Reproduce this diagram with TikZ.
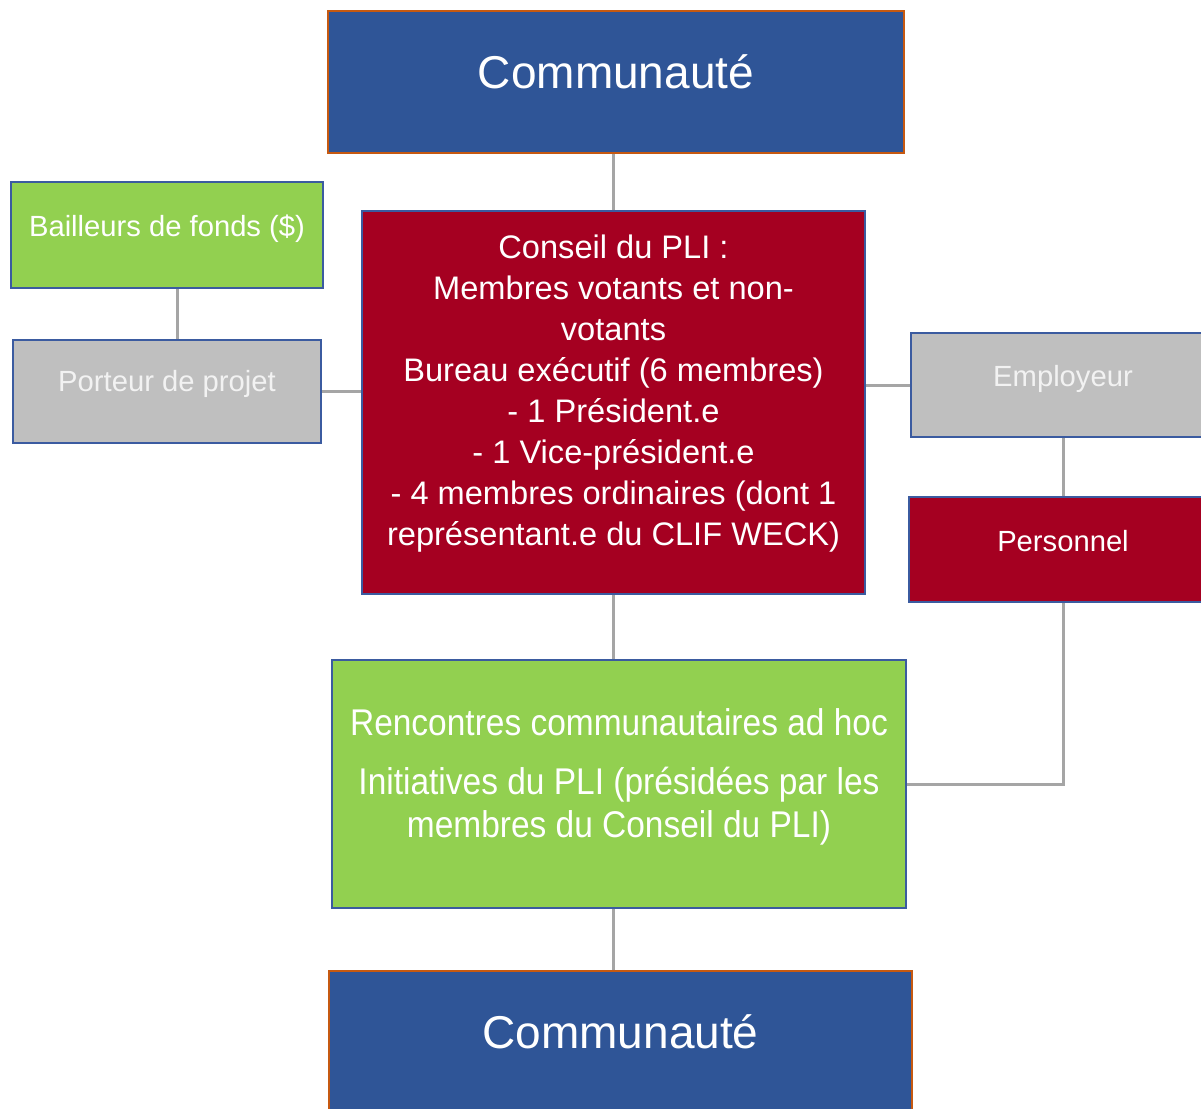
\documentclass[tikz,border=0pt]{standalone}
\usepackage{fontspec}
\setmainfont{Liberation Sans}
\newfontfamily\narrowsans[FakeStretch=0.9]{Liberation Sans}
\usepackage{xcolor}
\usepackage{tikz}
\usetikzlibrary{positioning}
\definecolor{commblue}{HTML}{2F5597}
\definecolor{commedge}{HTML}{C65911}
\definecolor{boxedge}{HTML}{3B5BA0}
\definecolor{pligreen}{HTML}{92D050}
\definecolor{plired}{HTML}{A50021}
\definecolor{pligray}{HTML}{BFBFBF}
\definecolor{paletext}{HTML}{F2F2F2}
\definecolor{linkgray}{HTML}{A5A5A5}
\tikzset{basic/.style={draw=boxedge,line width=1pt,inner sep=0pt,text=white,anchor=north west}}
\tikzset{community/.style={basic,draw=commedge,fill=commblue,font=\fontsize{23}{28}\selectfont,text height=38.5pt,text depth=32.5pt}}
\tikzset{small/.style={basic,font=\fontsize{14.6}{18}\selectfont}}
\tikzset{council/.style={basic,fill=plired,text width=251.5pt,align=flush center,font=\fontsize{16.3}{20.5}\selectfont}}
\tikzset{meeting/.style={basic,fill=pligreen,text width=287pt,align=flush center,font=\narrowsans\fontsize{18.6}{21.5}\selectfont}}
\tikzset{link/.style={draw=linkgray,line width=1.5pt}}

\begin{document}
\begin{tikzpicture}[x=0.5pt,y=-0.5pt]
		\useasboundingbox (0,0) rectangle (1201,1109);
		\clip (0,0) rectangle (1201,1109);
		\node[community,minimum width=288pt] (top) at (327,10) {Communauté};
		\node[small,fill=pligreen,minimum width=156pt,text height=27pt,text depth=26pt] (funds) at (10,181) {Bailleurs de fonds (\$)};
		\node[small,fill=pligray,text=paletext,minimum width=154pt,text height=25.5pt,text depth=26pt,below=25pt of funds] (carrier) {Porteur de projet};
		\node[council,text height=23.5pt,text depth=168pt] (council) at (361,210) {Conseil du PLI :\\Membres votants et non-\\votants\\Bureau exécutif (6 membres)\\- 1 Président.e\\- 1 Vice-président.e\\- 4 membres ordinaires (dont 1\\représentant.e du CLIF WECK)};
		\node[small,fill=pligray,text=paletext,minimum width=152pt,text height=26.5pt,text depth=25.5pt] (employer) at (910,332) {Employeur};
		\node[small,fill=plired,minimum width=154pt,text height=27pt,text depth=25.5pt,below=29pt of employer] (staff) {Personnel};
		\node[meeting,text height=37.5pt,text depth=86.5pt] (meetings) at (331,659) {Rencontres communautaires ad hoc\\[8pt]Initiatives du PLI (présidées par les\\membres du Conseil du PLI)};
		\node[community,minimum width=291.5pt] (bottom) at (328,970) {Communauté};
		% links
		\path[link] (council.north |- top.south) -- (council.north);
		\path[link] ([xshift=5pt]funds.south) -- ([xshift=5pt]carrier.north);
		\path[link] (carrier.east) -- (carrier.east -| council.west);
		\path[link] (employer.west) -- (employer.west -| council.east);
		\path[link] (employer) -- (staff);
		\path[link] (staff.south) |- (meetings.east);
		\path[link] (council.south) -- (council.south |- meetings.north);
		\path[link] (council.south |- meetings.south) -- (council.south |- bottom.north);
	\end{tikzpicture}
\end{document}
